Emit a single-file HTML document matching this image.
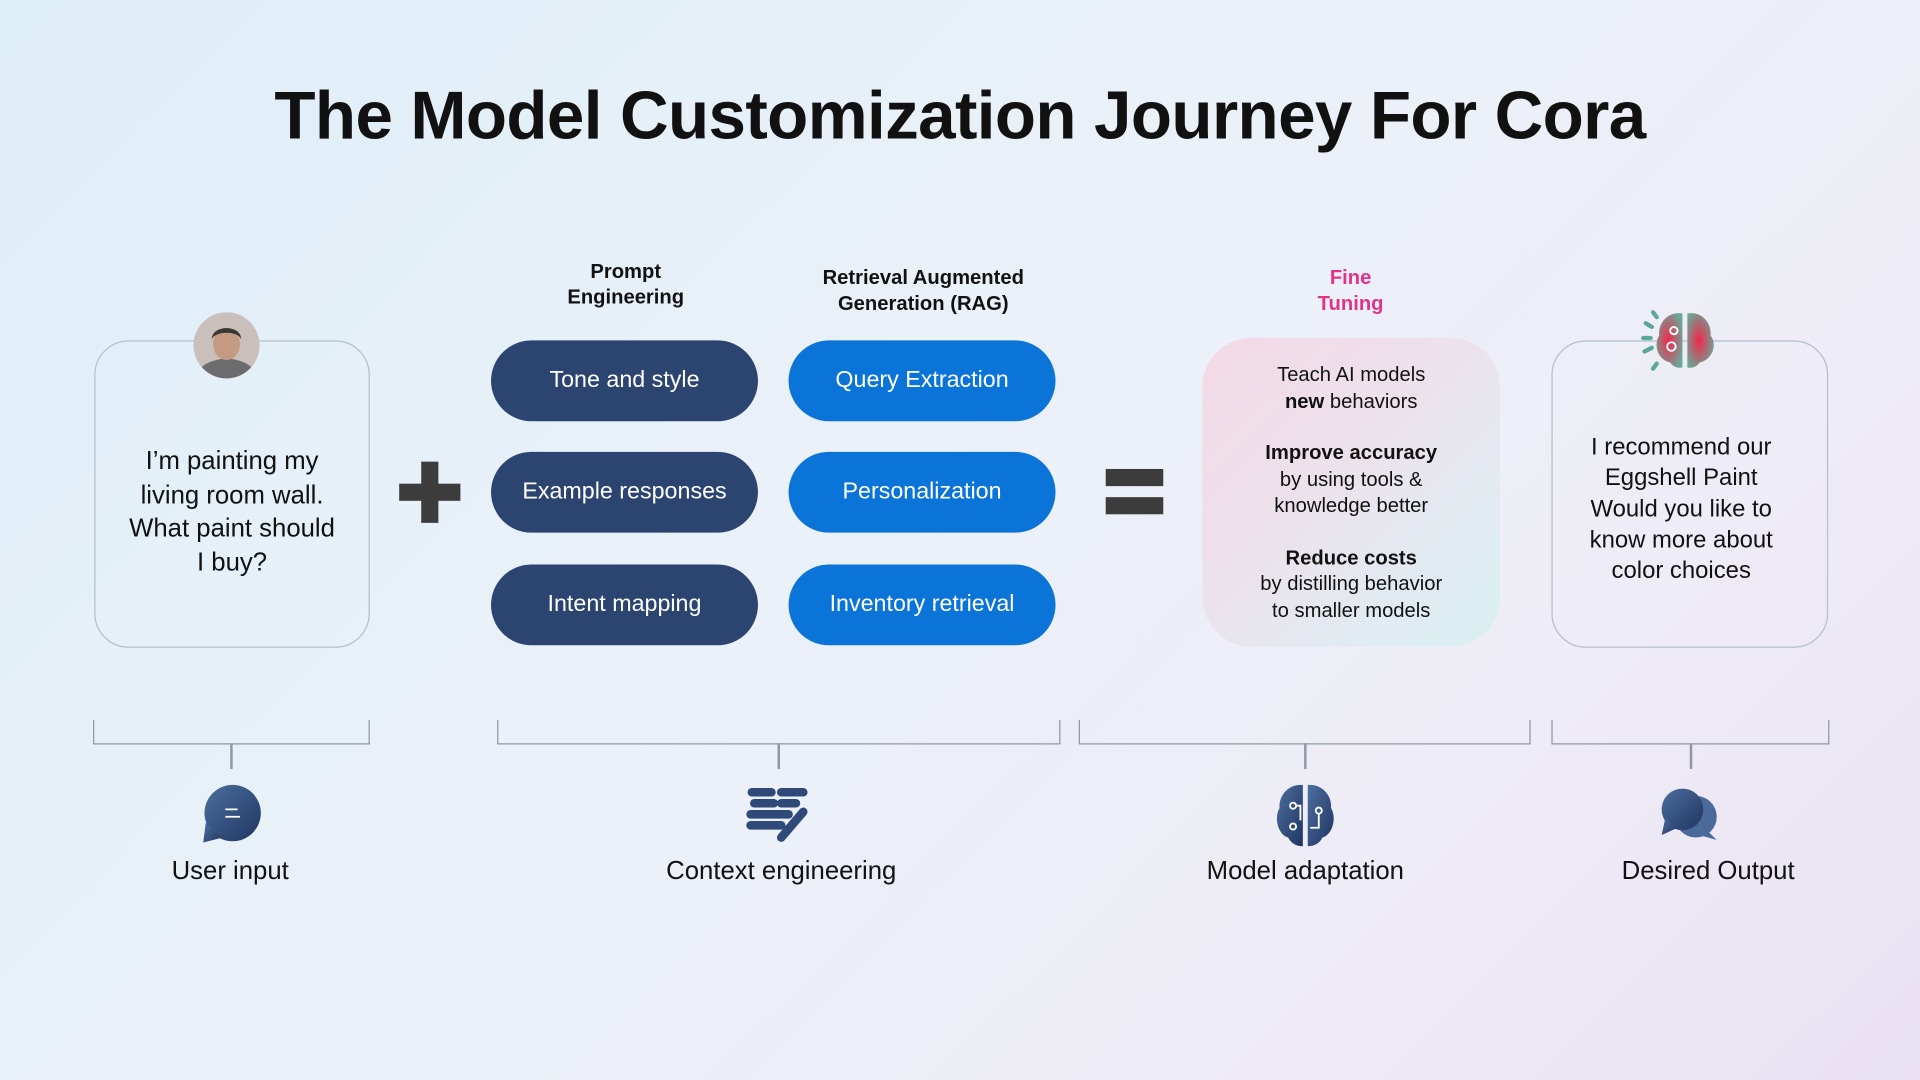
<!DOCTYPE html>
<html><head><meta charset="utf-8"><style>
html,body{margin:0;padding:0;width:1920px;height:1080px;overflow:hidden}
body{background:linear-gradient(135deg,#deeef8 0%,#ebf1f8 45%,#eeecf6 75%,#e9e1f2 100%);font-family:"Liberation Sans",sans-serif}
#s{position:absolute;left:0;top:0;width:1568px;height:882px;transform:scale(1.22449);transform-origin:0 0}
.a{position:absolute}
.t{position:absolute;text-align:center;color:#111}
.card{position:absolute;border:1.5px solid #b3bfca;border-radius:28px;box-sizing:border-box}
.pill{position:absolute;width:218px;height:66px;border-radius:33px;color:#fff;font-size:19px;display:flex;align-items:center;justify-content:center}
.d{background:#2c4470}.b{background:#0b74d9}
.br{position:absolute;border:1.5px solid #8d98a4;border-top:none;height:20px;top:588px;box-sizing:border-box}
.stem{position:absolute;width:1.5px;background:#8d98a4;top:607px;height:21px}
.lbl{position:absolute;font-size:21px;color:#111;text-align:center;width:300px;top:700px}
</style></head><body><div id="s">
<div class="t" style="left:0;width:1568px;top:62px;font-size:55px;font-weight:bold;letter-spacing:-0.5px">The Model Customization Journey For Cora</div>

<div class="card" style="left:77px;top:278px;width:225px;height:251px"></div>
<svg class="a" style="left:158px;top:255px" width="54" height="54"><defs><clipPath id="c"><circle cx="27" cy="27" r="27"/></clipPath></defs><g clip-path="url(#c)"><rect width="54" height="54" fill="#c9c0bb"/><ellipse cx="27" cy="56" rx="26" ry="18" fill="#6c6c6e"/><ellipse cx="27" cy="26" rx="11" ry="13" fill="#c49a82"/><path d="M15 22 C15 10 39 10 39 22 C36 15 18 15 15 22Z" fill="#3a3836"/></g></svg>
<div class="t" style="left:77px;width:225px;top:363px;font-size:21px;line-height:27.5px">I’m painting my<br>living room wall.<br>What paint should<br>I buy?</div>

<div class="a" style="left:326px;top:395px;width:50px;height:14px;background:#3c3c3c"></div>
<div class="a" style="left:344px;top:377px;width:14px;height:50px;background:#3c3c3c"></div>

<div class="t" style="left:411px;width:200px;top:212px;font-size:16.5px;font-weight:bold;line-height:21px">Prompt<br>Engineering</div>
<div class="t" style="left:634px;width:240px;top:217px;font-size:16.5px;font-weight:bold;line-height:21px">Retrieval Augmented<br>Generation (RAG)</div>

<div class="pill d" style="left:401px;top:278px">Tone and style</div>
<div class="pill d" style="left:401px;top:369px">Example responses</div>
<div class="pill d" style="left:401px;top:461px">Intent mapping</div>
<div class="pill b" style="left:644px;top:278px">Query Extraction</div>
<div class="pill b" style="left:644px;top:369px">Personalization</div>
<div class="pill b" style="left:644px;top:461px">Inventory retrieval</div>

<div class="a" style="left:903px;top:383px;width:47px;height:14px;background:#3c3c3c"></div>
<div class="a" style="left:903px;top:406px;width:47px;height:14px;background:#3c3c3c"></div>

<div class="t" style="left:1003px;width:200px;top:217px;font-size:16.5px;font-weight:bold;line-height:21px;color:#e0348b">Fine<br>Tuning</div>
<div class="a" style="left:982px;top:276px;width:243px;height:252px;border-radius:40px;background:linear-gradient(135deg,#f3d9e6 0%,#ece2ec 45%,#e0ecf2 80%,#d8f0f0 100%)"></div>
<div class="t" style="left:982px;width:243px;top:296px;font-size:16.5px;line-height:21.5px">Teach AI models<br><b>new</b> behaviors<br><div style="height:21px"></div><b>Improve accuracy</b><br>by using tools &amp;<br>knowledge better<br><div style="height:21px"></div><b>Reduce costs</b><br>by distilling behavior<br>to smaller models</div>

<div class="card" style="left:1267px;top:278px;width:226px;height:251px"></div>
<svg class="a" style="left:1340px;top:250px" width="70" height="60" viewBox="0 0 70 60">
<defs><radialGradient id="g" cx="0.45" cy="0.5" r="0.6"><stop offset="0" stop-color="#f0284a"/><stop offset="1" stop-color="#6aa89a"/></radialGradient></defs>
<path d="M34 6 C22 4 14 14 15 24 C10 32 14 44 24 46 C28 52 34 50 34 50 Z" fill="url(#g)"/>
<path d="M38 6 C50 4 58 14 57 24 C63 32 58 44 48 46 C44 52 38 50 38 50 Z" fill="url(#g)"/>
<g stroke="#5aa898" stroke-width="3.5" stroke-linecap="round"><line x1="4" y1="14" x2="9" y2="17"/><line x1="2" y1="26" x2="8" y2="26"/><line x1="3" y1="37" x2="9" y2="34"/><line x1="10" y1="5" x2="13" y2="9"/><line x1="10" y1="51" x2="13" y2="47"/></g>
<circle cx="27" cy="20" r="3" fill="none" stroke="#fff" stroke-width="1.5"/><circle cx="25" cy="33" r="3.5" fill="none" stroke="#fff" stroke-width="1.5"/>
</svg>
<div class="t" style="left:1260px;width:226px;top:353px;font-size:19.5px;line-height:25.3px">I recommend our<br>Eggshell Paint<br>Would you like to<br>know more about<br>color choices</div>

<div class="br" style="left:76px;width:226px"></div><div class="stem" style="left:188px"></div>
<div class="br" style="left:406px;width:460px"></div><div class="stem" style="left:635px"></div>
<div class="br" style="left:881px;width:369px"></div><div class="stem" style="left:1065px"></div>
<div class="br" style="left:1267px;width:227px"></div><div class="stem" style="left:1380px"></div>

<svg class="a" style="left:164px;top:640px" width="52" height="50"><defs><linearGradient id="bl" x1="0" y1="0" x2="1" y2="1"><stop offset="0" stop-color="#4d6fa0"/><stop offset="1" stop-color="#1f3560"/></linearGradient></defs><circle cx="26" cy="24" r="23" fill="url(#bl)"/><path d="M4 32 L2 48 L18 44 Z" fill="url(#bl)"/><line x1="20" y1="21" x2="30" y2="21" stroke="#fff" stroke-width="1.5"/><line x1="20" y1="27" x2="32" y2="27" stroke="#fff" stroke-width="1.5"/></svg>
<svg class="a" style="left:608px;top:642px" width="56" height="48"><g stroke="#2f4a78" stroke-width="7" stroke-linecap="round"><line x1="6" y1="5" x2="22" y2="5"/><line x1="30" y1="5" x2="48" y2="5"/><line x1="8" y1="14" x2="24" y2="14"/><line x1="30" y1="14" x2="42" y2="14"/><line x1="5" y1="23" x2="36" y2="23"/><line x1="5" y1="32" x2="30" y2="32"/><line x1="48" y1="21" x2="30" y2="42"/></g></svg>
<svg class="a" style="left:1040px;top:638px" width="52" height="56"><path d="M24 3 C12 2 4 12 5 22 C0 30 4 44 12 46 C16 54 24 53 24 53Z" fill="url(#bl)"/><path d="M28 3 C40 2 48 12 47 22 C52 30 48 44 40 46 C36 54 28 53 28 53Z" fill="url(#bl)"/><g fill="none" stroke="#fff" stroke-width="1.5"><circle cx="16" cy="20" r="2.5"/><circle cx="16" cy="37" r="2.5"/><circle cx="37" cy="24" r="2.5"/><path d="M18 20 H22 V32 M37 27 V38 H30"/></g></svg>
<svg class="a" style="left:1354px;top:642px" width="52" height="46"><circle cx="31" cy="25" r="17" fill="#4a6a9a"/><path d="M40 36 L48 44 L34 40Z" fill="#4a6a9a"/><circle cx="20" cy="19" r="17" fill="url(#bl)"/><path d="M6 26 L3 40 L16 34Z" fill="url(#bl)"/></svg>

<div class="lbl" style="left:38px">User input</div>
<div class="lbl" style="left:488px">Context engineering</div>
<div class="lbl" style="left:916px">Model adaptation</div>
<div class="lbl" style="left:1245px">Desired Output</div>
</div></body></html>
